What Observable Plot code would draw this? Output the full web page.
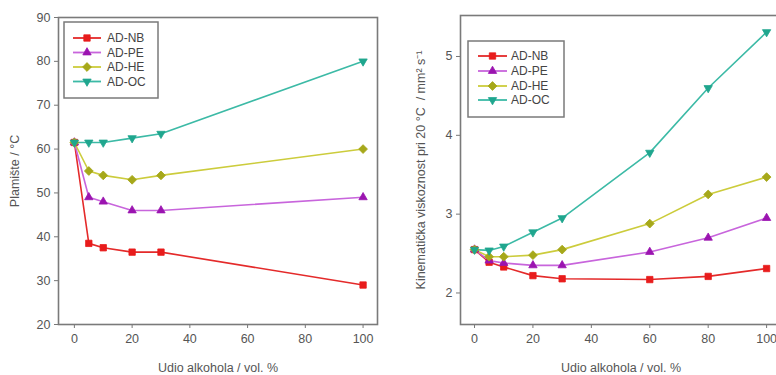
<!DOCTYPE html>
<html>
<head>
<meta charset="utf-8">
<script src="https://cdn.jsdelivr.net/npm/d3@7"></script>
<script src="https://cdn.jsdelivr.net/npm/@observablehq/plot@0.6"></script>
<style>
  html, body { margin: 0; padding: 0; background: #fff; overflow: hidden; }
  #wrap { position: relative; width: 776px; height: 375px; overflow: hidden; font-family: "Liberation Sans", Arial, sans-serif; }
  #wrap > * { position: absolute; }
</style>
</head>
<body>
<div id="wrap"></div>
<script>
// ---------- data ----------
const seriesNames = ["AD-NB", "AD-PE", "AD-HE", "AD-OC"];

// Left panel: flash point (Plamište / °C)
const flashX = [0, 5, 10, 20, 30, 100];
const flashNB = [61.5, 38.5, 37.5, 36.5, 36.5, 29];
const flashPE = [61.5, 49, 48, 46, 46, 49];
const flashHE = [61.5, 55, 54, 53, 54, 60];
const flashOC = [61.5, 61.5, 61.5, 62.5, 63.5, 80];
const flashTicksY = [20, 30, 40, 50, 60, 70, 80, 90];

// Right panel: kinematic viscosity at 20 °C (mm² s⁻¹)
const viscX = [0, 5, 10, 20, 30, 60, 80, 100];
const viscNB = [2.55, 2.39, 2.33, 2.22, 2.18, 2.17, 2.21, 2.31];
const viscPE = [2.55, 2.41, 2.38, 2.35, 2.35, 2.52, 2.70, 2.95];
const viscHE = [2.55, 2.46, 2.46, 2.48, 2.55, 2.88, 3.25, 3.47];
const viscOC = [2.55, 2.54, 2.59, 2.77, 2.95, 3.78, 4.60, 5.31];
const viscTicksY = [2, 3, 4, 5];

const xTicks = [0, 20, 40, 60, 80, 100];

// ---------- styles ----------
const style = {
  "AD-NB": {line: "#e42a2a", fill: "#e81c1c", symbol: "square", rotate: 0, r: 3.6},
  "AD-PE": {line: "#c865dc", fill: "#9b14b0", symbol: "triangle", rotate: 0, r: 3.1},
  "AD-HE": {line: "#cccc3c", fill: "#a6a81a", symbol: "square", rotate: 45, r: 3.5},
  "AD-OC": {line: "#3cbaa6", fill: "#1fa68e", symbol: "triangle", rotate: 180, r: 3.1}
};

function tidy(xs, cols) {
  const rows = [];
  seriesNames.forEach((s, i) => xs.forEach((x, j) => rows.push({series: s, x, y: cols[i][j]})));
  return rows;
}
const flashRows = tidy(flashX, [flashNB, flashPE, flashHE, flashOC]);
const viscRows = tidy(viscX, [viscNB, viscPE, viscHE, viscOC]);

function seriesMarks(rows) {
  const marks = [];
  for (const s of seriesNames) {
    const d = rows.filter(r => r.series === s);
    const st = style[s];
    marks.push(Plot.line(d, {x: "x", y: "y", stroke: st.line, strokeWidth: 1.6}));
  }
  for (const s of seriesNames) {
    const d = rows.filter(r => r.series === s);
    const st = style[s];
    marks.push(Plot.dot(d, {x: "x", y: "y", symbol: () => st.symbol, r: st.r, fill: st.fill, stroke: st.fill, strokeWidth: 0.8, rotate: st.rotate}));
  }
  return marks;
}

function makePanel({rows, width, height, margins, xDomain, yDomain, yTicks, yLabel, yLabelOffset}) {
  return Plot.plot({
    width, height,
    marginLeft: margins[0], marginRight: margins[1], marginTop: margins[2], marginBottom: margins[3],
    style: {fontFamily: "'Liberation Sans', Arial, sans-serif", fontSize: "12px", color: "#555", background: "transparent"},
    x: {domain: xDomain},
    y: {domain: yDomain},
    marks: [
      Plot.axisX({ticks: xTicks, tickSize: 4, tickPadding: 6, stroke: "#777", fill: "#555", fontSize: 12.5, tickFormat: d3.format("d"),
                  label: "Udio alkohola / vol. %", labelAnchor: "center", labelOffset: 47, labelArrow: "none"}),
      Plot.axisY({ticks: yTicks, tickSize: 4, tickPadding: 4, stroke: "#777", fill: "#555", fontSize: 12.5, tickFormat: d3.format("d"),
                  label: yLabel, labelAnchor: "center", labelOffset: yLabelOffset, labelArrow: "none"}),
      ...seriesMarks(rows),
      Plot.frame({stroke: "#7a7a7a", strokeWidth: 1.6})
    ]
  });
}

const wrap = document.getElementById("wrap");

const left = makePanel({
  rows: flashRows, width: 390, height: 375, margins: [58, 13, 17, 51],
  xDomain: [-5.5, 105], yDomain: [20, 90], yTicks: flashTicksY,
  yLabel: "Plamište / °C", yLabelOffset: 48
});
left.style.left = "0px"; left.style.top = "0px";
wrap.appendChild(left);

const right = makePanel({
  rows: viscRows, width: 400, height: 375, margins: [70, 9, 15, 51],
  xDomain: [-4.8, 105.1], yDomain: [1.6, 5.52], yTicks: viscTicksY,
  yLabel: "Kinematička viskoznost pri 20 °C  / mm² s⁻¹", yLabelOffset: 44
});
right.style.left = "390px"; right.style.top = "0px";
wrap.appendChild(right);

// ---------- legends ----------
function legend(x0, y0, w, h, rowY, lineX0, lineX1, textX) {
  const svg = d3.create("svg").attr("width", w + 4).attr("height", h + 4)
    .style("left", (x0 - 2) + "px").style("top", (y0 - 2) + "px").style("position", "absolute");
  svg.append("rect").attr("x", 2).attr("y", 2).attr("width", w).attr("height", h)
    .attr("fill", "white").attr("stroke", "#7a7a7a").attr("stroke-width", 1.5);
  const symMap = {square: d3.symbolSquare, triangle: d3.symbolTriangle};
  seriesNames.forEach((s, i) => {
    const st = style[s];
    const y = rowY[i] - y0 + 2;
    svg.append("line").attr("x1", lineX0 - x0 + 2).attr("x2", lineX1 - x0 + 2).attr("y1", y).attr("y2", y)
      .attr("stroke", st.line).attr("stroke-width", 1.8);
    const cx = (lineX0 + lineX1) / 2 - x0 + 2;
    const size = Math.PI * st.r * st.r;
    svg.append("path").attr("d", d3.symbol(symMap[st.symbol], size)())
      .attr("transform", `translate(${cx},${y}) rotate(${st.rotate})`)
      .attr("fill", st.fill).attr("stroke", st.fill).attr("stroke-width", 0.8);
    svg.append("text").attr("x", textX - x0 + 2).attr("y", y).attr("dy", "0.35em")
      .attr("font-size", 12).attr("fill", "#444")
      .attr("font-family", "'Liberation Sans', Arial, sans-serif").text(s);
  });
  return svg.node();
}

wrap.appendChild(legend(64, 22, 94, 76, [38, 52.5, 67, 81.5], 73, 101, 107));
wrap.appendChild(legend(468, 41, 96, 76, [56, 71, 86, 100], 478, 507, 511));
</script>
</body>
</html>
